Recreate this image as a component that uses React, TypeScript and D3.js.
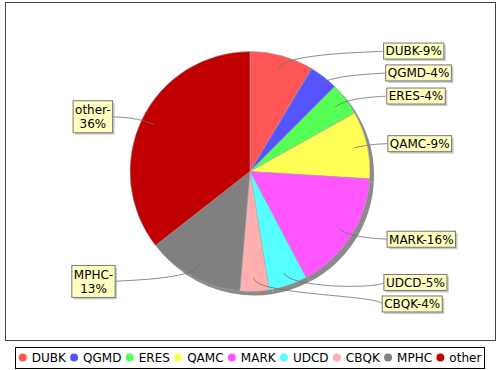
import React from 'react';
import * as d3 from 'd3';

const categories = ['DUBK', 'QGMD', 'ERES', 'QAMC', 'MARK', 'UDCD', 'CBQK', 'MPHC', 'other'];
const values = [8.6, 3.9, 4.4, 9.1, 16.3, 5.2, 3.9, 13.1, 35.6];
const percentLabels = ['9%', '4%', '4%', '9%', '16%', '5%', '4%', '13%', '36%'];
const colors = ['#FF5555', '#5555FF', '#55FF55', '#FFFF55', '#FF55FF', '#55FFFF', '#FFAFAF', '#808080', '#C00000'];

const W = 500;
const H = 370;
const FONT = '"DejaVu Sans", Verdana, sans-serif';
const FS = 12;

function measure(text: string): number {
  const c = document.createElement('canvas').getContext('2d');
  if (!c) return text.length * 7;
  c.font = `${FS}px "DejaVu Sans"`;
  return c.measureText(text).width;
}

type Lab = {
  i: number;
  theta: number;
  right: boolean;
  lines: string[];
  w: number;
  h: number;
  y: number;
};

export default function App() {
  const cx = 250;
  const cy = 171.5;
  const R = 120;

  const pie = d3.pie<number>().sort(null).value((d) => d);
  const arcs = pie(values);
  const arcGen = d3.arc<d3.PieArcDatum<number>>().innerRadius(0).outerRadius(R);

  const labs: Lab[] = arcs.map((a, i) => {
    const theta = (a.startAngle + a.endAngle) / 2;
    const right = theta < Math.PI;
    const lines = right
      ? [`${categories[i]}-${percentLabels[i]}`]
      : [`${categories[i]}-`, percentLabels[i]];
    const w = Math.max(...lines.map(measure)) + 4;
    const h = lines.length * 14 + (lines.length > 1 ? 4 : 2);
    const y = cy - 125 * Math.cos(theta);
    return { i, theta, right, lines, w, h, y };
  });

  const resolve = (side: Lab[]) => {
    side.sort((a, b) => a.y - b.y);
    for (let it = 0; it < 50; it++) {
      for (let k = 0; k < side.length - 1; k++) {
        const a = side[k];
        const b = side[k + 1];
        const minGap = (a.h + b.h) / 2 + 5.5;
        const gap = b.y - a.y;
        if (gap < minGap) {
          const d = (minGap - gap) / 2;
          a.y -= d;
          b.y += d;
        }
      }
    }
  };
  resolve(labs.filter((l) => l.right));
  resolve(labs.filter((l) => !l.right));

  const legW = categories.map(measure);
  const itemGap = 4.3;
  const circleD = 8;
  const textGap = 5;
  const totalW =
    legW.reduce((s, w) => s + w, 0) + categories.length * (circleD + textGap) + (categories.length - 1) * itemGap;
  const legBoxX = 15.5;
  const legBoxW = 469;
  let lx = legBoxX + legBoxW / 2 - totalW / 2;
  const legY = 357.5;
  const legendItems = categories.map((c, i) => {
    const item = { c, i, cxp: lx + circleD / 2, tx: lx + circleD + textGap };
    lx += circleD + textGap + legW[i] + itemGap;
    return item;
  });

  const boxXOf = (l: Lab) => {
    const s = Math.sin(l.theta);
    return l.right ? cx + 132 + 6 * Math.abs(s) : cx - 132 - 6 * Math.abs(s) - l.w;
  };

  return (
    <svg
      width={W}
      height={H}
      style={{ position: 'absolute', left: 0, top: 0, background: '#fff' }}
      fontFamily={FONT}
      fontSize={FS}
    >
      <rect x={0} y={0} width={W} height={H} fill="#fff" />
      <rect x={5.5} y={2.5} width={490} height={338} fill="#fff" stroke="#444" strokeWidth={1} />

      <g transform={`translate(${cx + 4},${cy + 4})`}>
        {arcs.map((a, i) => (
          <path key={'s' + i} d={arcGen(a) || ''} fill="#8a8a8a" />
        ))}
      </g>
      <g transform={`translate(${cx},${cy})`}>
        {arcs.map((a, i) => (
          <path key={'p' + i} d={arcGen(a) || ''} fill={colors[i]} stroke="#aaa" strokeWidth={0.5} />
        ))}
      </g>

      {labs.map((l) => {
        const s = Math.sin(l.theta);
        const c = Math.cos(l.theta);
        const x0 = cx + 0.89 * R * s;
        const y0 = cy - 0.89 * R * c;
        const ex = cx + 1.03 * R * s;
        const ey = cy - 1.03 * R * c;
        const bx = boxXOf(l);
        const tx = l.right ? bx : bx + l.w;
        const ax = l.right ? cx + R + 10 : cx - R - 10;
        const p = d3.path();
        p.moveTo(x0, y0);
        p.bezierCurveTo(ex, ey, ax, ey, tx, l.y);
        return <path key={'l' + l.i} d={p.toString()} fill="none" stroke="#707070" strokeWidth={0.8} />;
      })}

      {labs.map((l) => {
        const boxX = boxXOf(l);
        const boxY = l.y - l.h / 2;
        return (
          <g key={'b' + l.i}>
            <rect x={boxX + 2} y={boxY + 2} width={l.w} height={l.h} fill="rgba(151,151,151,0.5)" />
            <rect x={boxX} y={boxY} width={l.w} height={l.h} fill="#FFFFC0" stroke="#777" strokeWidth={1} />
            {l.lines.map((t, k) => (
              <text
                key={k}
                x={l.right ? boxX + 2 : boxX + l.w / 2}
                y={l.y + (k - (l.lines.length - 1) / 2) * 14}
                dy="0.36em"
                textAnchor={l.right ? 'start' : 'middle'}
                fill="#000"
              >
                {t}
              </text>
            ))}
          </g>
        );
      })}

      <rect x={legBoxX} y={347.5} width={legBoxW} height={21} fill="#fff" stroke="#000" strokeWidth={1} />
      {legendItems.map((it) => (
        <g key={'lg' + it.i}>
          <circle cx={it.cxp} cy={legY} r={4} fill={colors[it.i]} />
          <text x={it.tx} y={legY} dy="0.36em" fill="#000">
            {it.c}
          </text>
        </g>
      ))}
    </svg>
  );
}
